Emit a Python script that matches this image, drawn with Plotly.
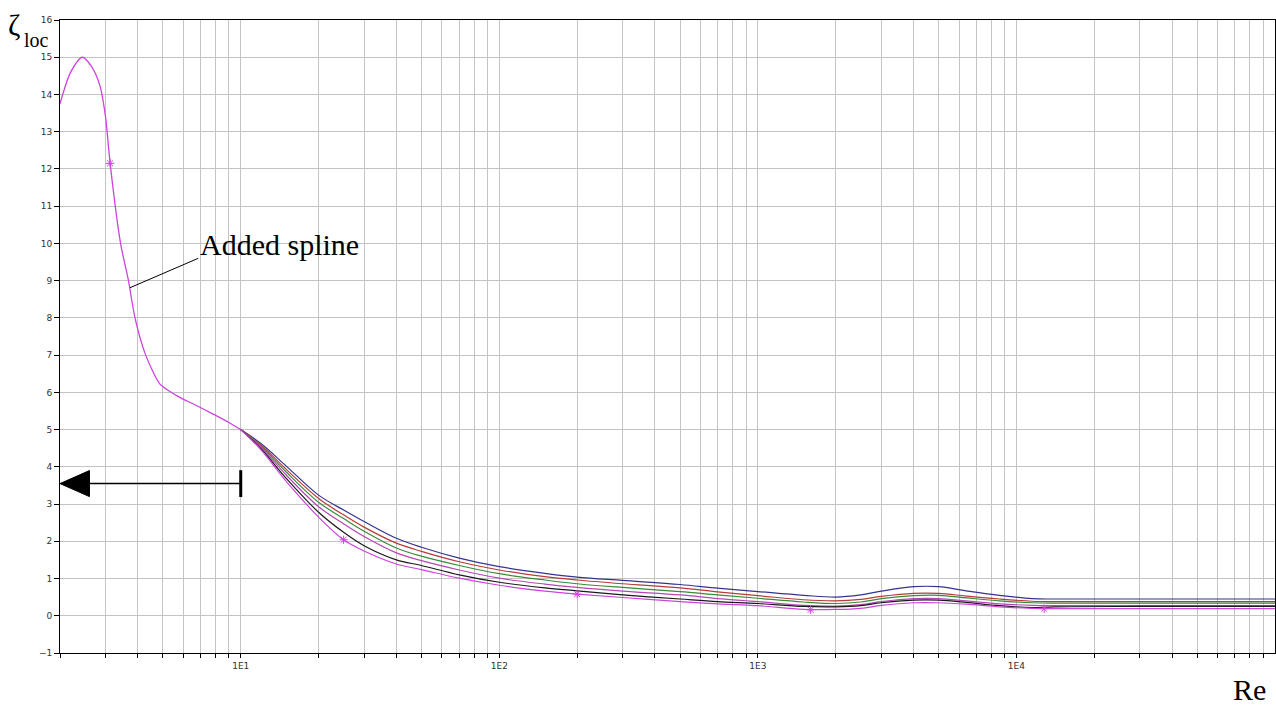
import math
import plotly.graph_objects as go

# ---------------- data ----------------
# Added spline (low Re part), shared by all curves up to Re = 10
spline_re = [2, 2.2, 2.44, 2.65, 2.85, 3.0, 3.125, 3.43, 3.68, 3.9, 4.29, 4.87, 5.2, 5.76, 6.68, 7.75, 9.0, 10]
spline_z = [13.75, 14.6, 15.0, 14.75, 14.25, 13.4, 12.15, 10.0, 9.0, 8.0, 7.0, 6.22, 6.07, 5.88, 5.66, 5.43, 5.19, 5.0]

re = [10, 12, 15, 20, 25, 30, 40, 50, 70, 100, 150, 200, 300, 500, 700, 1000, 1500,
      2000, 2500, 3000, 4000, 5000, 6400, 8600, 11500, 14000, 30000, 100000]

z_blue = [5.0, 4.62, 4.02, 3.24, 2.84, 2.53, 2.08, 1.84, 1.55, 1.32, 1.14, 1.04, 0.95, 0.84, 0.74, 0.65, 0.55,
          0.50, 0.56, 0.66, 0.78, 0.78, 0.67, 0.55, 0.46, 0.45, 0.45, 0.45]
z_red = [5.0, 4.58, 3.93, 3.15, 2.71, 2.38, 1.95, 1.73, 1.45, 1.23, 1.05, 0.96, 0.86, 0.75, 0.64, 0.54, 0.43,
         0.40, 0.44, 0.52, 0.60, 0.60, 0.53, 0.45, 0.39, 0.38, 0.38, 0.38]
z_green = [5.0, 4.55, 3.86, 3.05, 2.61, 2.27, 1.82, 1.60, 1.35, 1.13, 0.96, 0.86, 0.76, 0.65, 0.56, 0.47, 0.37,
           0.33, 0.37, 0.46, 0.54, 0.55, 0.48, 0.40, 0.35, 0.34, 0.34, 0.34]
z_pink = [5.0, 4.52, 3.78, 2.93, 2.47, 2.13, 1.69, 1.48, 1.23, 1.01, 0.85, 0.76, 0.66, 0.56, 0.46, 0.38, 0.28,
          0.26, 0.30, 0.38, 0.46, 0.46, 0.40, 0.32, 0.28, 0.27, 0.27, 0.27]
z_black = [5.0, 4.48, 3.69, 2.78, 2.24, 1.88, 1.50, 1.35, 1.10, 0.90, 0.75, 0.67, 0.56, 0.45, 0.38, 0.33, 0.25,
           0.24, 0.27, 0.35, 0.42, 0.42, 0.36, 0.27, 0.22, 0.24, 0.25, 0.25]
z_magenta = [5.0, 4.45, 3.61, 2.65, 2.04, 1.74, 1.39, 1.24, 1.01, 0.82, 0.66, 0.58, 0.49, 0.38, 0.32, 0.27, 0.17,
             0.17, 0.20, 0.28, 0.35, 0.35, 0.31, 0.24, 0.20, 0.19, 0.19, 0.19]

marker_re = [2, 3.125, 25, 200, 1600, 12800]
marker_z = [13.75, 12.15, 2.04, 0.58, 0.16, 0.19]

# annotation geometry (data units)
arrow_re = [2.6, 10]
arrow_z = 3.55
arrow_head_re = [2, 2.6, 2.6, 2]
arrow_head_z = [3.55, 3.9, 3.2, 3.55]
bar_re = [10, 10]
bar_z = [3.19, 3.91]
leader_re = [3.73, 6.85]
leader_z = [8.81, 9.60]

x_major = [10, 100, 1000, 10000]
x_major_text = ["1E1", "1E2", "1E3", "1E4"]
x_minor = [m * 10 ** d for d in range(0, 5) for m in range(2, 10) if 2 <= m * 10 ** d <= 100000]

# ---------------- figure ----------------
fig = go.Figure()

series = [
    (z_blue, "#34348f"),
    (z_red, "#b83a3a"),
    (z_green, "#3a8a3a"),
    (z_pink, "#b448b4"),
    (z_black, "#1a1a1a"),
    (z_magenta, "#cc44dd"),
]
for zs, col in series:
    fig.add_trace(go.Scatter(x=re, y=zs, mode="lines",
                             line=dict(color=col, width=1.2, shape="spline", smoothing=1.0),
                             showlegend=False, hoverinfo="skip"))

fig.add_trace(go.Scatter(x=spline_re, y=spline_z, mode="lines",
                         line=dict(color="#cc44dd", width=1.3, shape="spline", smoothing=0.8),
                         showlegend=False))

fig.add_trace(go.Scatter(x=marker_re, y=marker_z, mode="markers",
                         marker=dict(symbol="asterisk-open", size=7, color="#cc44dd",
                                     line=dict(color="#cc44dd", width=1)),
                         showlegend=False, cliponaxis=False))

# arrow
fig.add_trace(go.Scatter(x=arrow_re, y=[arrow_z, arrow_z], mode="lines",
                         line=dict(color="black", width=1.5), showlegend=False, cliponaxis=False))
fig.add_trace(go.Scatter(x=arrow_head_re, y=arrow_head_z, mode="lines", fill="toself",
                         fillcolor="black", line=dict(color="black", width=1),
                         showlegend=False, cliponaxis=False))
fig.add_trace(go.Scatter(x=bar_re, y=bar_z, mode="lines",
                         line=dict(color="black", width=3), showlegend=False))
# leader line
fig.add_trace(go.Scatter(x=leader_re, y=leader_z, mode="lines",
                         line=dict(color="black", width=1), showlegend=False))

serif = "Liberation Serif, Times New Roman, serif"
fig.add_annotation(text="Added spline", xref="x", yref="y",
                   x=math.log10(leader_re[1]), y=leader_z[1] + 0.38,
                   xanchor="left", yanchor="middle", showarrow=False,
                   font=dict(family=serif, size=30, color="black"))
fig.add_annotation(text="ζ", xref="paper", yref="paper",
                   x=-0.0444, y=1.022, xanchor="left", yanchor="top", showarrow=False,
                   font=dict(family=serif, size=30, color="black"))
fig.add_annotation(text="loc", xref="paper", yref="paper",
                   x=-0.0313, y=0.989, xanchor="left", yanchor="top", showarrow=False,
                   font=dict(family=serif, size=20, color="black"))
fig.add_annotation(text="Re", xref="paper", yref="paper",
                   x=0.979, y=-0.057, xanchor="center", yanchor="middle", showarrow=False,
                   font=dict(family=serif, size=30, color="black"))

tickfont = dict(family="DejaVu Sans, Verdana, sans-serif", size=9, color="#333333")
grid = "#c4c4c4"

fig.update_xaxes(type="log", range=[math.log10(2), 5],
                 tickmode="array", tickvals=x_major, ticktext=x_major_text,
                 ticks="outside", ticklen=4, tickcolor="black",
                 showline=True, linecolor="black", linewidth=1, mirror=True,
                 showgrid=True, gridcolor=grid, gridwidth=1, zeroline=False,
                 tickfont=tickfont,
                 minor=dict(tickmode="array", tickvals=x_minor, ticks="outside", ticklen=4,
                            tickcolor="black", showgrid=True, gridcolor=grid, gridwidth=1))
fig.update_yaxes(range=[-1, 16], tick0=0, dtick=1,
                 ticks="outside", ticklen=5, tickcolor="black",
                 showline=True, linecolor="black", linewidth=1, mirror=True,
                 showgrid=True, gridcolor=grid, gridwidth=1, zeroline=False,
                 tickfont=tickfont)

fig.update_layout(width=1276, height=707,
                  margin=dict(l=60, r=1, t=20, b=54, autoexpand=False),
                  plot_bgcolor="white", paper_bgcolor="white",
                  showlegend=False)

fig.write_html("out.html")
